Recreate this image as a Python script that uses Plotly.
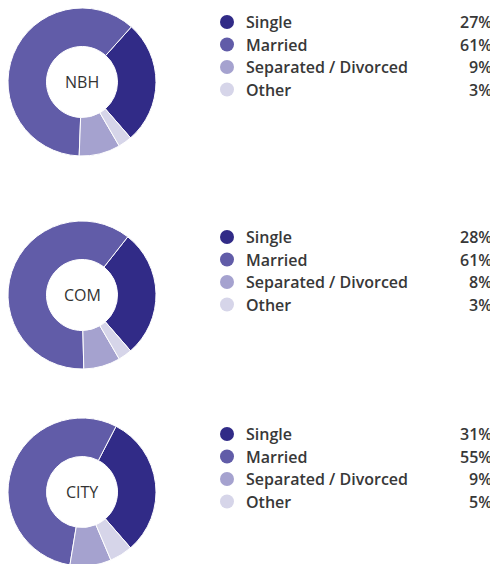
import plotly.graph_objects as go

categories = ["Single", "Married", "Separated / Divorced", "Other"]
areas = ["NBH", "COM", "CITY"]
nbh_values = [27, 61, 9, 3]
com_values = [28, 61, 8, 3]
city_values = [31, 55, 9, 5]
series = [nbh_values, com_values, city_values]

colors = ["#312b87", "#615ca8", "#a5a2cf", "#d6d5e9"]

# page body adds an 8px margin; work in figure coordinates
OFF = 8
W, H = 490, 564
cx = 82 - OFF
radius = 74
centers_y = [81 - OFF, 295 - OFF, 492 - OFF]
legend_top = [22 - OFF, 237 - OFF, 434 - OFF]
row_gap = 22.5
text_color = "#383838"
font_family = "Open Sans, sans-serif"

fig = go.Figure()
annotations = []

for area, vals, cy, ly in zip(areas, series, centers_y, legend_top):
    r = radius
    cy = max(cy, r)
    fig.add_trace(go.Pie(
        labels=categories,
        values=vals,
        hole=0.48,
        sort=False,
        direction="counterclockwise",
        rotation=139 - 360 * vals[0] / sum(vals),
        marker=dict(colors=colors, line=dict(color="white", width=1)),
        textinfo="none",
        hoverinfo="label+percent",
        showlegend=False,
        domain=dict(x=[(cx - r) / W, (cx + r) / W], y=[1 - (cy + r) / H, 1 - (cy - r) / H]),
    ))
    annotations.append(dict(
        x=cx / W, y=1 - cy / H, xref="paper", yref="paper", text=area,
        showarrow=False, font=dict(family=font_family, size=16, color="#333333"),
        xanchor="center", yanchor="middle",
    ))
    ys = [ly + i * row_gap for i in range(len(categories))]
    fig.add_trace(go.Scatter(
        x=[227 - OFF] * len(categories), y=ys, mode="markers",
        marker=dict(color=colors, size=14, line=dict(width=0)),
        hoverinfo="skip", showlegend=False, xaxis="x", yaxis="y",
    ))
    for cat, v, y in zip(categories, vals, ys):
        annotations.append(dict(
            x=244 - OFF, y=y, xref="x", yref="y", text=cat, showarrow=False,
            font=dict(family=font_family, size=16, color=text_color, weight=600),
            xanchor="left", yanchor="middle",
        ))
        annotations.append(dict(
            x=494 - OFF, y=y, xref="x", yref="y", text=f"{v}%", showarrow=False,
            font=dict(family=font_family, size=16, color=text_color, weight=600),
            xanchor="right", yanchor="middle",
        ))

fig.update_layout(
    width=W, height=H,
    margin=dict(l=0, r=0, t=0, b=0),
    paper_bgcolor="white", plot_bgcolor="rgba(0,0,0,0)",
    xaxis=dict(range=[0, W], visible=False, domain=[0, 1], fixedrange=True),
    yaxis=dict(range=[H, 0], visible=False, domain=[0, 1], fixedrange=True),
    annotations=annotations,
)

fig.write_html("out.html")
